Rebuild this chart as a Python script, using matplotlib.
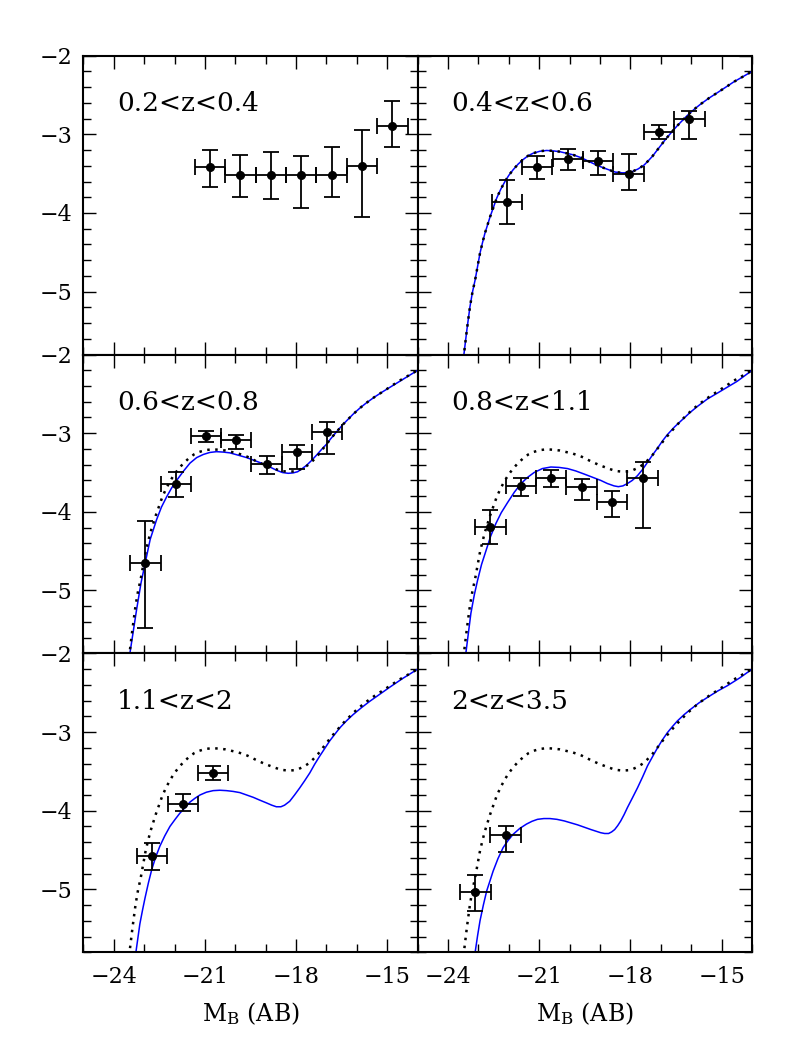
import matplotlib
matplotlib.use("Agg")
import matplotlib.pyplot as plt
from matplotlib.ticker import MultipleLocator

plt.rcParams['font.family'] = ['DejaVu Serif']
plt.rcParams['mathtext.fontset'] = 'dejavuserif'

# ---------------- data ----------------
labels = ["0.2<z<0.4", "0.4<z<0.6", "0.6<z<0.8", "0.8<z<1.1", "1.1<z<2", "2<z<3.5"]

# observed points: magnitude, log phi, upper and lower errors
M1 = [-20.83, -19.83, -18.82, -17.83, -16.83, -15.83, -14.83]
phi1 = [-3.42, -3.52, -3.52, -3.52, -3.52, -3.40, -2.89]
up1 = [0.22, 0.26, 0.29, 0.25, 0.36, 0.46, 0.31]
lo1 = [0.25, 0.28, 0.30, 0.42, 0.28, 0.65, 0.27]

M2 = [-22.07, -21.07, -20.06, -19.06, -18.06, -17.06, -16.06]
phi2 = [-3.855, -3.41, -3.31, -3.34, -3.50, -2.97, -2.80]
up2 = [0.27, 0.14, 0.13, 0.13, 0.25, 0.09, 0.10]
lo2 = [0.28, 0.16, 0.14, 0.18, 0.21, 0.09, 0.26]

M3 = [-22.96, -21.96, -20.97, -19.97, -18.97, -17.98, -16.98]
phi3 = [-4.65, -3.65, -3.04, -3.09, -3.39, -3.24, -2.98]
up3 = [0.53, 0.155, 0.07, 0.07, 0.10, 0.09, 0.12]
lo3 = [0.83, 0.16, 0.07, 0.11, 0.13, 0.22, 0.28]

M4 = [-22.61, -21.60, -20.61, -19.61, -18.60, -17.60]
phi4 = [-4.195, -3.67, -3.57, -3.69, -3.88, -3.57]
up4 = [0.215, 0.10, 0.10, 0.105, 0.15, 0.20]
lo4 = [0.22, 0.13, 0.11, 0.16, 0.18, 0.63]

M5 = [-22.75, -21.73, -20.73]
phi5 = [-4.58, -3.91, -3.517]
up5 = [0.165, 0.12, 0.09]
lo5 = [0.17, 0.09, 0.09]

M6 = [-23.10, -22.11]
phi6 = [-5.03, -4.305]
up6 = [0.21, 0.115]
lo6 = [0.25, 0.215]

xbin_half = 0.5

# reference model (black dotted), same in panels 2-6
Mref = [-23.52, -23.48, -23.38, -23.28, -23.20, -23.11, -23.03, -22.95, -22.87, -22.79,
        -22.62, -22.51, -22.40, -22.27, -22.13, -22.00, -21.86, -21.70, -21.53, -21.36,
        -21.20, -20.98, -20.76, -20.55, -20.33, -19.89, -19.60, -19.34, -19.06, -18.79,
        -18.50, -18.25, -18.05, -17.92, -17.75, -17.55, -17.40, -17.28, -17.14, -17.00,
        -16.86, -16.73, -16.46, -16.13, -15.90, -15.69, -15.42, -15.14, -14.59, -14.00]
phiref = [-5.95, -5.80, -5.48, -5.19, -5.01, -4.85, -4.68, -4.51, -4.38, -4.26,
          -4.05, -3.93, -3.81, -3.70, -3.60, -3.52, -3.45, -3.38, -3.32, -3.27,
          -3.24, -3.215, -3.205, -3.21, -3.22, -3.26, -3.30, -3.35, -3.40, -3.44,
          -3.48, -3.49, -3.485, -3.47, -3.44, -3.39, -3.33, -3.28, -3.21, -3.14,
          -3.07, -3.01, -2.89, -2.76, -2.68, -2.615, -2.54, -2.47, -2.33, -2.20]

# model curves (blue) per panel
Mb2 = Mref
phib2 = phiref

Mb3 = [-23.50, -23.46, -23.25, -23.10, -22.97, -22.80, -22.59, -22.43, -22.26, -22.10,
       -21.93, -21.70, -21.49, -21.27, -21.05, -20.84, -20.62, -20.40, -20.18, -19.90,
       -19.63, -19.35, -19.08, -18.86, -18.65, -18.45, -18.26, -18.10, -17.95, -17.80,
       -17.66, -17.50, -17.33, -17.17, -17.00, -16.86, -16.73, -16.46, -16.13, -15.90,
       -15.69, -15.42, -15.14, -14.59, -14.00]
phib3 = [-5.95, -5.78, -5.25, -4.90, -4.66, -4.35, -4.10, -3.94, -3.81, -3.70,
         -3.60, -3.48, -3.38, -3.31, -3.27, -3.245, -3.235, -3.24, -3.25, -3.28,
         -3.31, -3.35, -3.39, -3.43, -3.47, -3.50, -3.51, -3.505, -3.49, -3.45,
         -3.41, -3.35, -3.28, -3.21, -3.14, -3.07, -3.01, -2.89, -2.76, -2.68,
         -2.615, -2.54, -2.47, -2.34, -2.20]

Mb4 = [-23.44, -23.41, -23.25, -23.14, -23.03, -22.90, -22.75, -22.60, -22.43, -22.25,
       -22.04, -21.82, -21.60, -21.38, -21.17, -20.90, -20.62, -20.35, -20.07, -19.80,
       -19.52, -19.25, -18.98, -18.76, -18.54, -18.40, -18.25, -18.10, -17.94, -17.77,
       -17.60, -17.44, -17.28, -17.11, -16.95, -16.79, -16.55, -16.30, -16.05, -15.80,
       -15.47, -15.14, -14.49, -14.00]
phib4 = [-5.95, -5.78, -5.29, -5.06, -4.87, -4.67, -4.49, -4.31, -4.15, -4.01,
         -3.88, -3.75, -3.64, -3.56, -3.50, -3.45, -3.43, -3.435, -3.45, -3.48,
         -3.52, -3.56, -3.60, -3.64, -3.67, -3.68, -3.67, -3.64, -3.60, -3.54,
         -3.46, -3.37, -3.28, -3.19, -3.10, -3.02, -2.92, -2.83, -2.74, -2.66,
         -2.565, -2.49, -2.34, -2.20]

Mb5 = [-23.30, -23.27, -23.14, -23.05, -22.97, -22.86, -22.75, -22.62, -22.48, -22.32,
       -22.15, -21.98, -21.82, -21.65, -21.49, -21.32, -21.16, -20.95, -20.73, -20.51,
       -20.29, -20.07, -19.85, -19.63, -19.41, -19.20, -18.98, -18.80, -18.65, -18.50,
       -18.38, -18.21, -18.05, -17.88, -17.72, -17.55, -17.39, -17.23, -17.06, -16.89,
       -16.73, -16.57, -16.35, -16.13, -15.85, -15.58, -15.25, -14.92, -14.50, -14.00]
phib5 = [-5.95, -5.80, -5.44, -5.26, -5.11, -4.92, -4.75, -4.59, -4.45, -4.32,
         -4.20, -4.11, -4.03, -3.96, -3.89, -3.84, -3.80, -3.765, -3.745, -3.74,
         -3.745, -3.755, -3.77, -3.80, -3.83, -3.865, -3.90, -3.93, -3.95, -3.95,
         -3.93, -3.88, -3.80, -3.71, -3.62, -3.52, -3.41, -3.31, -3.21, -3.11,
         -3.03, -2.95, -2.86, -2.78, -2.69, -2.61, -2.52, -2.43, -2.32, -2.20]

Mb6 = [-23.14, -23.11, -23.03, -22.95, -22.84, -22.73, -22.62, -22.52, -22.36, -22.19,
       -22.03, -21.86, -21.64, -21.42, -21.24, -21.06, -20.85, -20.65, -20.42, -20.18,
       -19.96, -19.74, -19.52, -19.30, -19.14, -18.98, -18.85, -18.72, -18.62, -18.52,
       -18.42, -18.32, -18.21, -18.10, -17.94, -17.77, -17.60, -17.44, -17.27, -17.11,
       -16.95, -16.79, -16.62, -16.46, -16.24, -16.02, -15.75, -15.47, -15.14, -14.81,
       -14.40, -14.00]
phib6 = [-5.95, -5.80, -5.59, -5.40, -5.20, -5.02, -4.89, -4.77, -4.61, -4.47,
         -4.38, -4.30, -4.225, -4.17, -4.135, -4.11, -4.10, -4.10, -4.11, -4.13,
         -4.155, -4.18, -4.21, -4.24, -4.26, -4.28, -4.29, -4.29, -4.27, -4.24,
         -4.19, -4.13, -4.05, -3.96, -3.84, -3.71, -3.57, -3.43, -3.31, -3.20,
         -3.10, -3.01, -2.93, -2.86, -2.78, -2.71, -2.63, -2.56, -2.48, -2.41,
         -2.31, -2.20]

obs = [(M1, phi1, up1, lo1), (M2, phi2, up2, lo2), (M3, phi3, up3, lo3),
       (M4, phi4, up4, lo4), (M5, phi5, up5, lo5), (M6, phi6, up6, lo6)]
blue = [None, (Mb2, phib2), (Mb3, phib3), (Mb4, phib4), (Mb5, phib5), (Mb6, phib6)]

# ---------------- figure ----------------
fig, axes = plt.subplots(3, 2, figsize=(7.95, 10.59), dpi=100)
fig.subplots_adjust(left=0.1048, right=0.946, top=0.9474, bottom=0.1008,
                    wspace=0, hspace=0)

for i, ax in enumerate(axes.flat):
    row, col = divmod(i, 2)
    if blue[i] is not None:
        ax.plot(blue[i][0], blue[i][1], color='#0000ff', lw=1.1, zorder=2,
                solid_joinstyle='round')
        ax.plot(Mref, phiref, color='black', lw=1.8, ls=(0, (1, 2.2)), zorder=3,
                dash_capstyle='butt')
    m, p, u, l = obs[i]
    ax.errorbar(m, p, yerr=[l, u], xerr=[xbin_half] * len(m), fmt='o',
                color='black', ms=5.5, elinewidth=1.3, capsize=6, capthick=1.3,
                zorder=4)
    ax.set_xlim(-25, -14)
    ax.set_ylim(-5.8, -2)
    ax.xaxis.set_major_locator(MultipleLocator(3))
    ax.xaxis.set_minor_locator(MultipleLocator(1))
    ax.yaxis.set_major_locator(MultipleLocator(1))
    ax.yaxis.set_minor_locator(MultipleLocator(0.2))
    ax.tick_params(which='both', direction='in', top=True, right=True,
                   labelsize=16, width=1.0)
    ax.tick_params(which='major', length=9.5)
    ax.tick_params(axis='y', which='major', pad=8)
    ax.tick_params(axis='x', which='major', pad=10)
    ax.tick_params(which='minor', length=5.5)
    for s in ax.spines.values():
        s.set_linewidth(1.5)
    if col == 1:
        ax.tick_params(labelleft=False)
    if row < 2:
        ax.tick_params(labelbottom=False)
    else:
        ax.set_xlabel(r'M$_{\mathrm{B}}$ (AB)', fontsize=17, labelpad=9)
    ax.text(0.1, 0.84, labels[i], transform=ax.transAxes, fontsize=19,
            ha='left', va='center')

# x tick labels with true minus
for ax in axes[2]:
    ax.set_xticks([-24, -21, -18, -15])
    ax.set_xticklabels(['\u221224', '\u221221', '\u221218', '\u221215'])

fig.savefig('out.png', dpi=100)
